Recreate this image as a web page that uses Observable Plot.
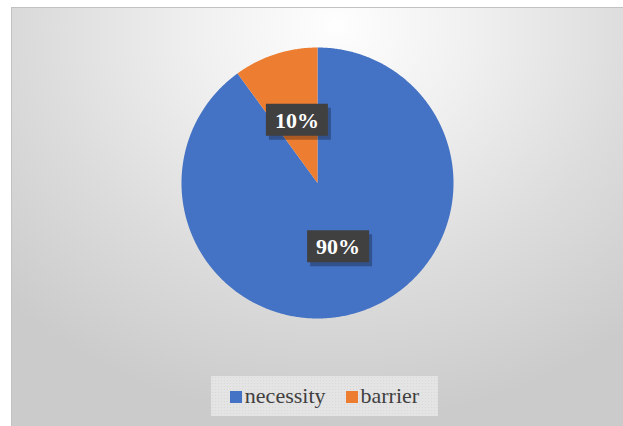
<!DOCTYPE html>
<html>
<head>
<meta charset="utf-8">
<script src="https://cdn.jsdelivr.net/npm/d3@7"></script>
<script src="https://cdn.jsdelivr.net/npm/@observablehq/plot@0.6"></script>
<style>
  html, body { margin: 0; padding: 0; background: #ffffff; }
  #wrap { position: relative; width: 623px; height: 426px; overflow: hidden; }
  #bg {
    position: absolute; left: 11px; top: 7px; width: 612px; height: 419px;
    border-left: 1px solid #c2c2c2; border-top: 1px solid #c2c2c2; box-sizing: border-box;
    background: radial-gradient(ellipse 75% 95% at 53% 4%, #fefefe 0%, #f0f0f0 30%, #dcdcdc 65%, #cbcbcb 100%);
  }
  #chart { position: absolute; left: 0; top: 0; }
  #chart svg { background: transparent !important; }
  #legend {
    position: absolute; left: 211px; top: 376px; width: 227px; height: 40px;
    background-color: #e4e4e4;
    background-image: radial-gradient(#d9d9d9 0.6px, transparent 0.8px);
    background-size: 3px 3px;
    display: flex; align-items: center; justify-content: center;
    font-family: 'Liberation Serif', 'Tinos', 'Noto Serif', 'FreeSerif', 'Nimbus Roman', 'DejaVu Serif', serif; font-size: 22px; color: #404040;
  }
  .item { display: flex; align-items: center; margin: 0 10px; }
  .sw { width: 12px; height: 12px; margin-right: 3px; margin-top: 2px; }
</style>
</head>
<body>
<div id="wrap">
  <div id="bg"></div>
  <div id="chart"></div>
  <div id="legend"></div>
</div>
<script>
const categories = ["necessity", "barrier"];
const values = [90, 10];
const colors = ["#4472C4", "#ED7D31"];

const total = d3.sum(values);
const arcs = d3.pie().sort(null).value((d, i) => values[i])(categories);

// slice outlines on the unit circle, clockwise from 12 o'clock
const pts = [];
arcs.forEach((a, i) => {
  const cat = categories[i];
  pts.push({cat, x: 0, y: 0});
  const n = Math.max(2, Math.ceil((a.endAngle - a.startAngle) / (Math.PI / 360)));
  for (let k = 0; k <= n; k++) {
    const t = a.startAngle + (a.endAngle - a.startAngle) * k / n;
    pts.push({cat, x: Math.sin(t), y: Math.cos(t)});
  }
  pts.push({cat, x: 0, y: 0});
});

const labels = arcs.map((a, i) => {
  const m = (a.startAngle + a.endAngle) / 2;
  return {cat: categories[i], x: 0.49 * Math.sin(m), y: 0.49 * Math.cos(m),
          text: Math.round(values[i] / total * 100) + "%"};
});

const boxSymbol = {draw(ctx) { ctx.moveTo(-31, -16); ctx.lineTo(31, -16); ctx.lineTo(31, 16); ctx.lineTo(-31, 16); ctx.closePath(); }};

const plot = Plot.plot({
  width: 623,
  height: 426,
  marginLeft: 181,
  marginRight: 170,
  marginTop: 47,
  marginBottom: 108,
  style: {background: "transparent"},
  x: {domain: [-1, 1], axis: null},
  y: {domain: [-1, 1], axis: null},
  color: {domain: categories, range: colors},
  marks: [
    Plot.line(pts, {x: "x", y: "y", z: "cat", fill: "cat", stroke: "none", curve: "linear-closed"}),
    Plot.dot(labels, {x: "x", y: "y", symbol: boxSymbol, r: 5, fill: "#000", fillOpacity: 0.28, stroke: "none", dx: 3, dy: 4}),
    Plot.dot(labels, {x: "x", y: "y", symbol: boxSymbol, r: 5, fill: "#404040", stroke: "none"}),
    Plot.text(labels, {x: "x", y: "y", text: "text", fill: "white", fontSize: 22, fontWeight: "bold",
      fontFamily: "'Liberation Serif', 'Tinos', 'Noto Serif', 'FreeSerif', 'Nimbus Roman', 'DejaVu Serif', serif", dy: 1})
  ]
});
document.getElementById("chart").appendChild(plot);

const legend = document.getElementById("legend");
categories.forEach((c, i) => {
  const it = document.createElement("div");
  it.className = "item";
  const sw = document.createElement("span");
  sw.className = "sw";
  sw.style.background = colors[i];
  const tx = document.createElement("span");
  tx.textContent = c;
  it.appendChild(sw); it.appendChild(tx);
  legend.appendChild(it);
});
</script>
</body>
</html>
